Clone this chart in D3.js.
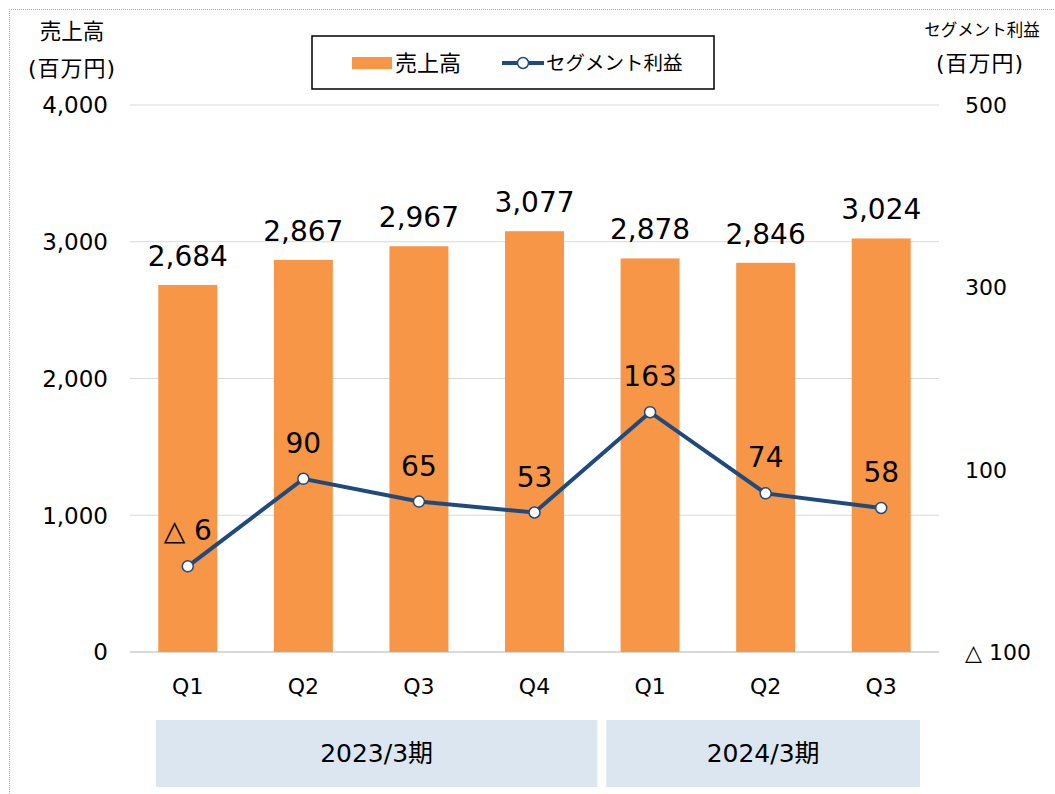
<!DOCTYPE html>
<html>
<head>
<meta charset="utf-8">
<script src="https://cdn.jsdelivr.net/npm/d3@7"></script>
<style>
  body { margin: 0; background: #fff; }
  svg text { font-family: "DejaVu Sans", "Noto Sans CJK JP", sans-serif; fill: #000; }
</style>
</head>
<body>
<div class="canvas"></div>
<script>
const quarters = ['Q1', 'Q2', 'Q3', 'Q4', 'Q1', 'Q2', 'Q3'];
const sales = [2684, 2867, 2967, 3077, 2878, 2846, 3024];
const profit = [-6, 90, 65, 53, 163, 74, 58];
const periods = [
  { name: '2023/3期', from: 0, to: 3 },
  { name: '2024/3期', from: 4, to: 6 }
];
const leftTicks = [0, 1000, 2000, 3000, 4000];
const rightTicks = [-100, 100, 300, 500];

const dims = { width: 1055, height: 794 };
const margin = { top: 105, right: 116, bottom: 142, left: 130 };
const graphWidth = dims.width - margin.left - margin.right;
const graphHeight = dims.height - margin.top - margin.bottom;

const orange = '#f79646';
const navy = '#1f4a7e';

const svg = d3.select('.canvas').append('svg')
  .attr('width', dims.width)
  .attr('height', dims.height);

// dotted frame
svg.append('path')
  .attr('d', `M9.5,${dims.height} V9.5 H${dims.width}`)
  .attr('fill', 'none')
  .attr('stroke', '#aaa')
  .attr('stroke-dasharray', '1,1');

const graph = svg.append('g')
  .attr('transform', `translate(${margin.left}, ${margin.top})`);

// scales
const x = d3.scaleBand()
  .domain(d3.range(quarters.length))
  .range([0, graphWidth])
  .paddingInner(0.49)
  .paddingOuter(0.245);

const yL = d3.scaleLinear().domain([0, 4000]).range([graphHeight, 0]);
const yR = d3.scaleLinear().domain([-100, 500]).range([graphHeight, 0]);

const fmt = d3.format(',');
const tri = v => v < 0 ? '△ ' + fmt(-v) : fmt(v);

// gridlines
graph.selectAll('line.grid')
  .data(leftTicks)
  .enter().append('line')
    .attr('class', 'grid')
    .attr('x1', 0).attr('x2', graphWidth)
    .attr('y1', d => yL(d)).attr('y2', d => yL(d))
    .attr('stroke', '#d9d9d9')
    .attr('stroke-width', d => d === 0 ? 2 : 1);

// left axis labels
graph.selectAll('text.yl')
  .data(leftTicks)
  .enter().append('text')
    .attr('x', -22)
    .attr('y', d => yL(d))
    .attr('dy', '0.36em')
    .attr('text-anchor', 'end')
    .style('font-size', '23px')
    .text(d => fmt(d));

// right axis labels
graph.selectAll('text.yr')
  .data(rightTicks)
  .enter().append('text')
    .attr('x', graphWidth + 26)
    .attr('y', d => yR(d))
    .attr('dy', '0.36em')
    .style('font-size', '22px')
    .text(d => tri(d));

// bars
graph.selectAll('rect.bar')
  .data(sales)
  .enter().append('rect')
    .attr('x', (d, i) => x(i))
    .attr('y', d => yL(d))
    .attr('width', x.bandwidth())
    .attr('height', d => graphHeight - yL(d))
    .attr('fill', orange);

graph.selectAll('text.bl')
  .data(sales)
  .enter().append('text')
    .attr('x', (d, i) => x(i) + x.bandwidth() / 2)
    .attr('y', d => yL(d) - 19)
    .attr('text-anchor', 'middle')
    .style('font-size', '28px')
    .text(d => fmt(d));

// profit line
const cx = i => x(i) + x.bandwidth() / 2;
const line = d3.line()
  .x((d, i) => cx(i))
  .y(d => yR(d));

graph.append('path')
  .datum(profit)
  .attr('d', line)
  .attr('fill', 'none')
  .attr('stroke', navy)
  .attr('stroke-width', 4);

graph.selectAll('circle.pt')
  .data(profit)
  .enter().append('circle')
    .attr('cx', (d, i) => cx(i))
    .attr('cy', d => yR(d))
    .attr('r', 5.5)
    .attr('fill', '#fff')
    .attr('stroke', navy)
    .attr('stroke-width', 1.5);

graph.selectAll('text.pl')
  .data(profit)
  .enter().append('text')
    .attr('x', (d, i) => cx(i))
    .attr('y', d => yR(d) - 26)
    .attr('text-anchor', 'middle')
    .style('font-size', '28px')
    .text(d => tri(d));

// quarter labels
graph.selectAll('text.q')
  .data(quarters)
  .enter().append('text')
    .attr('x', (d, i) => cx(i))
    .attr('y', graphHeight + 34)
    .attr('dy', '0.36em')
    .attr('text-anchor', 'middle')
    .style('font-size', '22px')
    .text(d => d);

// period boxes
const step = x.step();
const inset = [[26, 5], [14, -19]];
const boxX0 = (d, j) => cx(d.from) - step / 2 + inset[j][0];
const boxX1 = (d, j) => cx(d.to) + step / 2 + inset[j][1];

const pg = graph.selectAll('g.period')
  .data(periods)
  .enter().append('g');

pg.append('rect')
  .attr('x', boxX0)
  .attr('y', graphHeight + 68)
  .attr('width', (d, j) => boxX1(d, j) - boxX0(d, j))
  .attr('height', 67)
  .attr('fill', '#dce6f0');

pg.append('text')
  .attr('x', (d, j) => (boxX0(d, j) + boxX1(d, j)) / 2)
  .attr('y', graphHeight + 101)
  .attr('dy', '0.36em')
  .attr('text-anchor', 'middle')
  .style('font-size', '25px')
  .text(d => d.name);

// axis titles
svg.append('text').attr('x', 72).attr('y', 31).attr('dy', '0.36em')
  .attr('text-anchor', 'middle').style('font-size', '21.5px').text('売上高');
svg.append('text').attr('x', 72).attr('y', 68).attr('dy', '0.36em')
  .attr('text-anchor', 'middle').style('font-size', '22px')
  .style('letter-spacing', '1px').text('(百万円)');
svg.append('text').attr('x', 982).attr('y', 30).attr('dy', '0.36em')
  .attr('text-anchor', 'middle').style('font-size', '16.5px').text('セグメント利益');
svg.append('text').attr('x', 980).attr('y', 63).attr('dy', '0.36em')
  .attr('text-anchor', 'middle').style('font-size', '22px')
  .style('letter-spacing', '1px').text('(百万円)');

// legend
const legend = svg.append('g').attr('transform', 'translate(312, 36)');
legend.append('rect')
  .attr('width', 402).attr('height', 53)
  .attr('fill', '#fff').attr('stroke', '#000').attr('stroke-width', 1.5);
legend.append('rect')
  .attr('x', 40).attr('y', 21).attr('width', 40).attr('height', 12)
  .attr('fill', orange);
legend.append('text')
  .attr('x', 83).attr('y', 27).attr('dy', '0.36em')
  .style('font-size', '22px').text('売上高');
legend.append('line')
  .attr('x1', 190).attr('x2', 232).attr('y1', 27).attr('y2', 27)
  .attr('stroke', navy).attr('stroke-width', 4);
legend.append('circle')
  .attr('cx', 211).attr('cy', 27).attr('r', 5.5)
  .attr('fill', '#fff').attr('stroke', navy).attr('stroke-width', 1.5);
legend.append('text')
  .attr('x', 234).attr('y', 27).attr('dy', '0.36em')
  .style('font-size', '19.5px').text('セグメント利益');
</script>
</body>
</html>
